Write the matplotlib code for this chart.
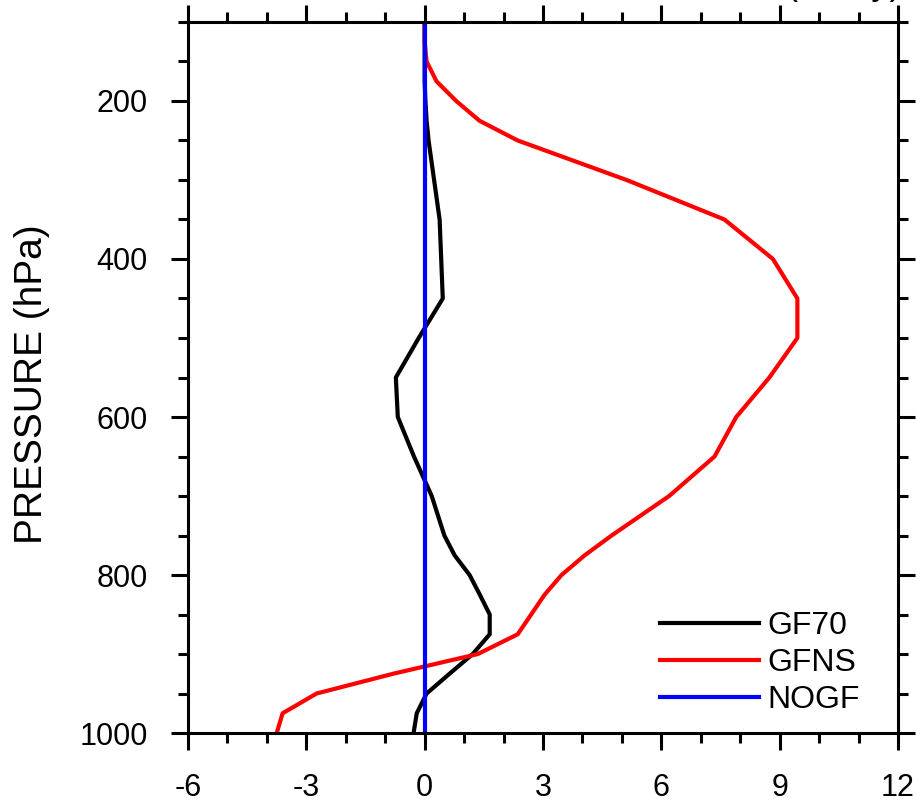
import numpy as np
import matplotlib
matplotlib.use("Agg")
import matplotlib.pyplot as plt
from matplotlib.ticker import MultipleLocator

plt.rcParams['font.family'] = ['Liberation Sans', 'DejaVu Sans']
plt.rcParams['axes.unicode_minus'] = False

# pressure levels (hPa) and heating profiles
pres = [1000, 975, 950, 925, 900, 875, 850, 825, 800, 775, 750, 700, 650,
        600, 550, 500, 450, 400, 350, 300, 250, 225, 200, 175, 150, 125, 100]
gf70 = [-0.28, -0.2, 0.05, 0.63, 1.22, 1.65, 1.65, 1.4, 1.14, 0.76, 0.5, 0.18, -0.27,
        -0.68, -0.73, -0.15, 0.46, 0.42, 0.38, 0.24, 0.1, 0.05, 0.02, 0.0, 0.0, 0.0, 0.0]
gfns = [-3.75, -3.6, -2.74, -0.8, 1.35, 2.36, 2.7, 3.04, 3.47, 4.06, 4.74, 6.2, 7.35,
        7.9, 8.74, 9.45, 9.45, 8.83, 7.6, 5.12, 2.36, 1.39, 0.8, 0.3, 0.05, 0.0, 0.0]
nogf = [0.0] * len(pres)

labels = ['GF70', 'GFNS', 'NOGF']
colors = ['black', 'red', 'blue']

fig = plt.figure(figsize=(9.16, 8.02), dpi=100)
ax = fig.add_axes([0.2052, 0.086, 0.7751, 0.8866])

for vals, lab, c in zip([gf70, gfns, nogf], labels, colors):
    ax.plot(vals, pres, color=c, lw=3, label=lab)

ax.set_xlim(-6, 12)
ax.set_ylim(1000, 100)
ax.xaxis.set_major_locator(MultipleLocator(3))
ax.xaxis.set_minor_locator(MultipleLocator(1))
ax.set_yticks([200, 400, 600, 800, 1000])
ax.yaxis.set_minor_locator(MultipleLocator(50))

for s in ax.spines.values():
    s.set_linewidth(2.2)
ax.tick_params(which='both', direction='out', top=True, right=True, width=2.2)
ax.tick_params(which='major', length=12, labelsize=22)
ax.tick_params(which='minor', length=7)
ax.tick_params(axis='x', which='major', pad=17)
ax.tick_params(axis='y', which='major', pad=17)

ax.set_ylabel('PRESSURE (hPa)', fontsize=28)
ax.yaxis.set_label_coords(-0.195, 0.49)

ax.legend(loc='upper left', bbox_to_anchor=(0.665, 0.171), frameon=False, fontsize=23,
          handlelength=3.1, handletextpad=0.25, labelspacing=0.22, borderpad=0,
          borderaxespad=0)

# title right string, cut off by the top edge as in the original
fig.text(0.985, 1.007, '(K/day)', ha='right', va='baseline', fontsize=26)

fig.savefig('out.png', dpi=100)
